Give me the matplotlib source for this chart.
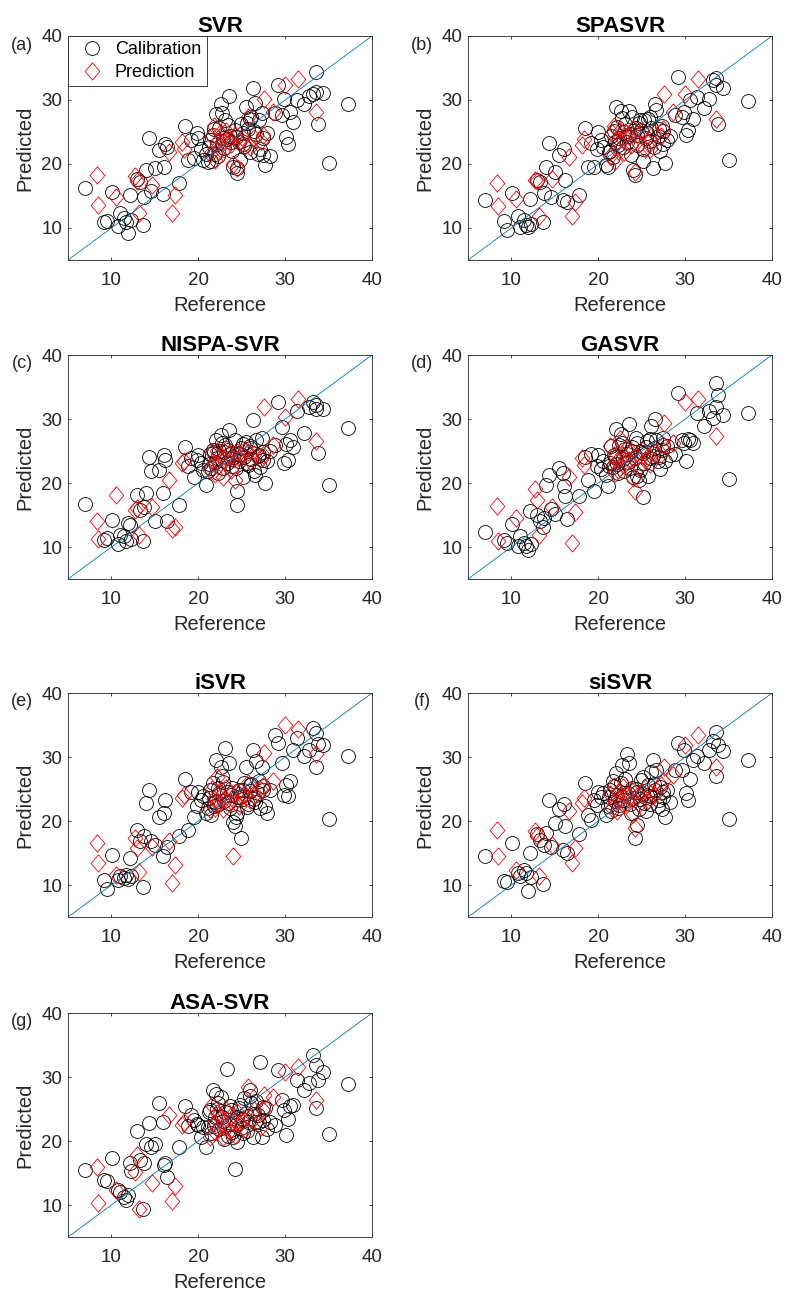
import matplotlib
matplotlib.use('Agg')
import matplotlib.pyplot as plt

plt.rcParams['font.family'] = ['Liberation Sans', 'DejaVu Sans']

# reference values (shared by every model)
cal_ref = [6.9, 9.2, 9.5, 10.1, 10.7, 11.0, 11.4, 11.7, 11.9, 12.1,
           12.3, 12.9, 13.3, 13.6, 13.7, 14.0, 14.3, 14.6, 15.0, 15.5,
           15.9, 16.1, 16.2, 16.4, 17.8, 18.5, 18.8,
           19.2, 19.5, 19.8, 20.0, 20.3, 20.6, 20.9,
           21.1, 21.3, 21.5, 21.7, 21.9, 22.0, 22.2, 22.4, 22.6, 22.8,
           23.0, 23.1, 23.3, 23.5, 23.7, 23.9, 24.0, 24.2, 24.4, 24.5,
           24.7, 24.9, 25.1, 25.3, 25.5, 25.7, 25.9, 26.1, 26.3, 26.5,
           26.7, 26.9, 27.1, 27.3, 27.5, 27.7, 27.9, 28.2,
           21.2, 21.8, 22.3, 22.7, 23.4, 23.8, 24.3, 24.8, 25.2, 25.6, 26.0, 26.4, 27.0, 27.4,
           28.8, 29.2, 29.6, 29.9, 30.1, 30.3, 30.6, 30.9, 31.4, 32.2,
           32.8, 33.2, 33.5, 33.6, 33.8, 34.4, 35.1, 37.2]

pred_ref = [8.3, 8.4, 10.5, 12.7, 12.9, 13.2, 14.7, 16.6, 17.0, 17.3,
            18.1, 18.3, 21.4, 21.6, 21.8, 21.9, 22.1, 22.3, 22.5, 22.8,
            23.0, 23.2, 23.5, 23.8, 24.0, 24.2, 24.4, 24.7, 25.0, 25.4,
            25.7, 26.0, 26.4, 27.2, 27.4, 27.6, 28.6, 30.0, 31.5, 33.6]

models = ['SVR', 'SPASVR', 'NISPA-SVR', 'GASVR', 'iSVR', 'siSVR', 'ASA-SVR']
tags = ['(a)', '(b)', '(c)', '(d)', '(e)', '(f)', '(g)']

# predicted values, calibration set
cal_svr = [16.3, 11.0, 11.1, 15.6, 10.3, 12.4, 11.6, 11.0, 9.2, 15.2,
           11.3, 17.6, 17.2, 10.4, 14.8, 19.0, 24.1, 15.8, 19.3, 22.2,
           15.3, 19.5, 23.1, 22.6, 17.0, 26.0, 20.6,
           23.7, 21.0, 24.8, 24.0, 22.4, 20.6, 21.6,
           20.3, 23.8, 20.4, 24.6, 21.6, 27.8, 23.2, 25.6, 29.4, 24.1,
           22.5, 26.8, 23.9, 30.7, 24.4, 22.0, 19.6, 25.3, 18.6, 19.3,
           23.4, 26.2, 24.9, 22.8, 28.9, 25.4, 27.0, 27.4, 31.8, 29.6,
           24.7, 21.5, 22.4, 27.9, 21.4, 19.8, 24.8, 21.3,
           22.6, 25.4, 21.2, 27.9, 26.1, 23.5, 24.2, 20.7, 23.1, 26.4, 21.9, 25.1, 26.8, 24.0,
           28.0, 32.3, 27.6, 30.2, 24.2, 23.2, 28.1, 26.6, 30.0, 29.4,
           30.7, 31.0, 31.3, 34.3, 26.3, 31.1, 20.2, 29.3]
cal_spasvr = [14.4, 11.1, 9.7, 15.5, 11.8, 10.2, 11.2, 10.5, 10.2, 14.6,
              10.6, 17.5, 17.2, 11.0, 15.4, 19.6, 23.3, 14.9, 18.8, 21.4,
              14.4, 22.4, 17.5, 14.1, 15.1, 25.6, 19.6,
              23.3, 19.6, 22.4, 25.0, 23.8, 22.6, 19.8,
              19.6, 22.0, 24.4, 21.1, 23.5, 28.9, 25.8, 24.0, 28.3, 22.6,
              25.0, 26.2, 23.4, 28.3, 24.7, 27.4, 19.0, 18.3, 23.0, 24.5,
              26.4, 25.3, 22.4, 26.9, 24.1, 27.1, 23.6, 25.6, 19.3, 29.4,
              28.4, 24.3, 22.0, 26.0, 25.1, 20.1, 23.8, 24.4,
              21.8, 25.2, 22.9, 27.2, 24.3, 21.4, 25.6, 26.8, 20.5, 24.9, 27.3, 22.6, 25.5, 23.2,
              27.6, 33.6, 27.4, 28.1, 24.5, 25.3, 30.0, 27.1, 30.5, 28.7,
              30.2, 33.1, 32.3, 33.4, 26.2, 31.8, 20.7, 29.8]
cal_nispa = [16.7, 11.1, 11.4, 14.2, 10.4, 11.9, 11.7, 11.0, 13.7, 13.5,
             11.2, 18.2, 15.8, 11.0, 16.3, 18.4, 24.1, 21.8, 14.0, 22.1,
             18.4, 24.4, 23.6, 14.1, 16.6, 25.7, 22.6,
             23.9, 21.0, 23.6, 24.3, 23.1, 22.0, 19.7,
             21.8, 24.6, 22.4, 25.2, 23.3, 26.7, 23.9, 25.0, 27.5, 22.3,
             24.8, 26.0, 23.1, 28.3, 24.5, 22.6, 24.0, 26.7, 16.6, 18.7,
             23.5, 25.4, 21.0, 24.1, 26.4, 22.8, 25.5, 23.7, 29.9, 21.3,
             26.7, 24.2, 22.5, 27.0, 24.8, 20.0, 23.4, 25.0,
             23.0, 24.9, 21.6, 26.2, 25.1, 23.8, 22.4, 24.5, 26.1, 23.2, 25.8, 21.9, 24.4, 23.6,
             26.0, 32.7, 28.8, 23.1, 26.1, 23.6, 26.7, 25.7, 31.2, 27.8,
             31.9, 32.7, 31.6, 32.2, 24.7, 31.5, 19.7, 28.6]
cal_gasvr = [12.4, 11.1, 10.6, 13.6, 10.1, 11.7, 10.6, 10.1, 9.6, 15.6,
             10.4, 15.0, 14.0, 13.2, 14.6, 19.7, 21.3, 15.9, 15.1, 22.4,
             21.5, 19.5, 17.9, 14.3, 17.9, 24.1, 20.5,
             24.6, 18.7, 22.6, 24.4, 22.2, 23.5, 21.2,
             19.6, 23.2, 25.8, 22.5, 24.1, 28.4, 22.9, 26.0, 27.7, 23.7,
             21.8, 25.3, 24.6, 29.2, 22.4, 25.7, 20.9, 23.9, 21.1, 26.3,
             20.4, 24.8, 17.8, 23.2, 25.6, 21.1, 26.9, 28.9, 24.2, 30.0,
             26.7, 23.4, 22.2, 25.1, 27.1, 23.4, 25.8, 24.4,
             22.6, 24.4, 21.6, 26.2, 23.3, 25.0, 27.0, 22.1, 24.7, 26.5, 23.9, 25.4, 24.1, 26.0,
             24.6, 34.0, 26.7, 26.2, 23.4, 26.9, 26.7, 26.2, 30.9, 28.9,
             31.2, 30.1, 31.9, 35.6, 33.8, 30.6, 20.7, 30.9]
cal_isvr = [3.5, 10.8, 9.3, 14.7, 10.8, 11.4, 11.1, 11.6, 10.9, 14.2,
            11.4, 18.6, 16.8, 9.7, 17.6, 22.8, 24.9, 16.8, 16.3, 20.7,
            14.5, 21.3, 23.3, 16.0, 17.6, 26.5, 18.6,
            24.6, 20.7, 22.3, 24.6, 23.3, 23.9, 21.3,
            22.1, 24.8, 21.0, 25.9, 23.0, 29.6, 22.5, 24.3, 28.5, 26.1,
            23.2, 31.4, 24.5, 29.1, 22.0, 25.1, 19.9, 19.2, 23.8, 21.2,
            24.9, 17.3, 23.4, 26.0, 28.5, 22.6, 24.7, 25.8, 31.1, 23.0,
            29.3, 24.4, 22.1, 28.5, 25.5, 22.3, 21.3, 24.8,
            23.6, 22.4, 25.2, 27.0, 22.8, 24.1, 20.6, 23.7, 24.8, 22.2, 25.6, 23.4, 26.2, 24.9,
            33.5, 32.2, 29.1, 24.0, 25.7, 23.9, 26.3, 31.1, 33.0, 30.1,
            31.1, 34.5, 33.8, 28.5, 32.0, 31.9, 20.3, 30.1]
cal_sisvr = [14.5, 10.6, 10.4, 16.6, 11.9, 11.4, 12.4, 11.8, 9.0, 15.0,
             11.2, 17.9, 17.1, 10.1, 16.3, 18.1, 23.3, 16.0, 19.7, 21.8,
             15.5, 22.6, 19.2, 15.0, 17.9, 25.9, 21.0,
             20.2, 23.3, 22.5, 24.6, 23.8, 24.4, 21.0,
             22.4, 24.9, 21.5, 26.3, 23.1, 27.5, 24.0, 22.5, 25.9, 23.3,
             24.4, 26.6, 30.4, 29.1, 22.7, 25.2, 23.6, 17.3, 19.4, 24.6,
             21.9, 26.4, 24.2, 22.8, 21.5, 25.6, 23.9, 27.7, 29.5, 24.8,
             28.0, 22.3, 25.3, 21.8, 23.7, 20.7, 24.9, 23.0,
             23.8, 25.4, 22.1, 28.8, 24.4, 21.2, 25.0, 23.5, 26.9, 24.0, 22.6, 25.8, 23.3, 24.6,
             28.0, 32.2, 28.0, 31.1, 24.4, 23.3, 26.5, 29.6, 30.2, 29.1,
             31.1, 32.5, 33.9, 27.0, 31.9, 30.9, 20.3, 29.6]
cal_asasvr = [15.4, 13.9, 13.7, 17.3, 12.4, 12.1, 11.3, 10.8, 11.6, 16.5,
              15.3, 21.5, 17.0, 9.4, 16.5, 19.6, 22.8, 19.1, 19.6, 25.9,
              23.0, 16.3, 16.6, 14.4, 19.1, 25.4, 22.4,
              24.1, 23.3, 22.7, 22.5, 20.7, 22.2, 19.1,
              22.2, 24.9, 21.3, 28.0, 23.7, 27.4, 25.0, 21.8, 26.9, 23.2,
              20.3, 24.5, 31.3, 22.6, 25.5, 21.4, 20.7, 15.7, 19.9, 23.8,
              25.2, 22.0, 21.2, 26.7, 24.3, 23.0, 28.0, 25.9, 20.7, 22.9,
              26.2, 24.1, 32.4, 20.7, 23.3, 25.1, 21.8, 23.0,
              24.6, 22.3, 26.0, 23.7, 20.8, 24.9, 22.5, 25.6, 23.4, 21.5, 27.1, 24.2, 22.9, 25.3,
              22.5, 31.1, 26.4, 24.8, 20.9, 23.5, 25.4, 25.6, 29.5, 27.9,
              29.0, 33.4, 31.8, 25.1, 29.5, 30.8, 21.1, 28.9]

# predicted values, prediction set
pred_svr = [18.3, 13.6, 14.9, 18.1, 17.4, 12.3, 16.7, 21.9, 12.3, 15.1,
            23.5, 22.4, 21.6, 24.3, 25.9, 20.7, 23.4, 22.0, 24.8, 23.6,
            22.3, 25.1, 24.0, 23.2, 20.0, 24.6, 19.3, 23.5, 24.2, 22.8,
            27.4, 22.7, 24.1, 23.6, 24.5, 30.2, 28.1, 32.3, 33.3, 28.1]
pred_spasvr = [17.0, 13.4, 14.6, 17.5, 17.3, 11.8, 17.7, 21.1, 11.8, 14.1,
               22.9, 23.9, 21.2, 24.8, 26.0, 20.4, 23.6, 22.1, 25.1, 23.9,
               21.9, 24.8, 24.3, 23.0, 25.4, 18.8, 24.7, 23.2, 25.2, 22.4,
               23.3, 22.4, 24.9, 24.4, 25.5, 31.0, 28.1, 31.0, 33.3, 27.1]
pred_nispa = [14.0, 11.2, 18.2, 15.8, 16.1, 11.9, 16.3, 20.5, 12.8, 13.2,
              23.1, 23.5, 22.0, 24.8, 23.1, 21.4, 25.0, 22.6, 24.2, 21.0,
              23.8, 25.3, 24.5, 22.1, 23.7, 20.5, 24.8, 23.9, 24.3, 25.2,
              24.9, 23.5, 24.6, 23.8, 24.3, 31.8, 26.0, 30.3, 33.2, 26.5]
pred_gasvr = [16.4, 10.9, 14.5, 19.0, 17.4, 11.8, 16.3, 21.0, 10.6, 15.4,
              23.9, 22.8, 25.8, 22.5, 24.3, 21.6, 23.4, 22.0, 26.9, 24.3,
              22.8, 25.3, 23.6, 24.8, 20.8, 18.7, 24.0, 22.5, 25.1, 23.6,
              24.2, 23.0, 24.9, 24.5, 25.9, 29.3, 26.3, 32.7, 33.2, 27.4]
pred_isvr = [16.6, 13.4, 11.6, 17.3, 15.8, 12.1, 16.0, 16.8, 10.3, 13.2,
             23.6, 24.1, 21.8, 25.0, 23.4, 22.1, 26.8, 23.0, 24.6, 21.9,
             23.5, 25.2, 22.8, 24.3, 14.5, 23.0, 24.6, 22.4, 23.9, 24.0,
             25.9, 23.3, 24.1, 24.8, 25.4, 30.6, 26.2, 35.0, 34.3, 30.4]
pred_sisvr = [18.6, 14.5, 12.4, 18.4, 17.6, 11.4, 16.3, 21.5, 13.4, 15.8,
              22.8, 23.6, 24.2, 22.1, 25.4, 23.0, 21.6, 24.6, 23.4, 25.3,
              22.5, 24.0, 23.7, 24.9, 21.1, 18.9, 23.9, 22.7, 24.4, 25.1,
              23.3, 24.4, 24.0, 25.6, 26.3, 28.5, 27.2, 31.9, 33.4, 28.4]
pred_asasvr = [16.0, 10.3, 12.4, 15.2, 17.8, 9.3, 13.4, 24.1, 10.6, 12.9,
               22.5, 23.0, 20.7, 25.6, 22.8, 21.4, 24.3, 21.9, 23.6, 20.6,
               22.2, 24.8, 21.5, 23.9, 23.0, 20.9, 24.6, 22.7, 23.2, 21.8,
               28.5, 23.6, 24.9, 22.2, 24.8, 27.2, 26.9, 30.8, 31.6, 26.4]

cal_all = [cal_svr, cal_spasvr, cal_nispa, cal_gasvr, cal_isvr, cal_sisvr, cal_asasvr]
pred_all = [pred_svr, pred_spasvr, pred_nispa, pred_gasvr, pred_isvr, pred_sisvr, pred_asasvr]

W, H = 787, 1294
fig = plt.figure(figsize=(W / 100, H / 100), dpi=100)

lefts = [68, 468]
tops = [36, 355, 693, 1013]
aw, ah = 304, 224
axc = '#262626'
# matlab-like diamond, a bit taller than wide
diamond = [(0, 1), (0.85, 0), (0, -1), (-0.85, 0), (0, 1)]

for i, name in enumerate(models):
    row, col = divmod(i, 2)
    x0, y0 = lefts[col], tops[row]
    ax = fig.add_axes([x0 / W, 1 - (y0 + ah) / H, aw / W, ah / H])

    ax.plot(cal_ref, cal_all[i], 'o', ms=10, mfc='none', mec='k', mew=0.6,
            label='Calibration')
    ax.plot(pred_ref, pred_all[i], ls='none', marker=diamond, ms=12.5, mfc='none',
            mec='#FF0000', mew=0.6, label='Prediction')
    ax.plot([5, 40], [5, 40], color='#0072BD', lw=0.6)

    ax.set_xlim(5, 40)
    ax.set_ylim(5, 40)
    ax.set_xticks([10, 20, 30, 40])
    ax.set_yticks([10, 20, 30, 40])
    for s in ax.spines.values():
        s.set_color(axc)
        s.set_linewidth(0.6)
    ax.tick_params(axis='both', direction='in', length=2.5, width=0.6, color=axc,
                   labelcolor=axc, labelsize=13.5, top=True, right=True)
    ax.tick_params(axis='x', pad=8.5)
    ax.tick_params(axis='y', pad=4)
    ax.set_xlabel('Reference', fontsize=14.5, color=axc, labelpad=5)
    ax.set_ylabel('Predicted', fontsize=14.5, color=axc, labelpad=5)
    ax.set_title(name, fontsize=16, fontweight='bold', pad=3)
    ax.text(-46 / aw, 1 - 9 / ah, tags[i], transform=ax.transAxes, fontsize=13,
            ha='center', va='center', color=axc)

    if i == 0:
        leg = ax.legend(loc='upper left', borderaxespad=0, fontsize=13, fancybox=False,
                        framealpha=1, edgecolor=axc, handlelength=2.1, handletextpad=0.2,
                        borderpad=0.3, labelspacing=0.3)
        leg.get_frame().set_linewidth(0.6)

plt.savefig('out.png', dpi=100)
